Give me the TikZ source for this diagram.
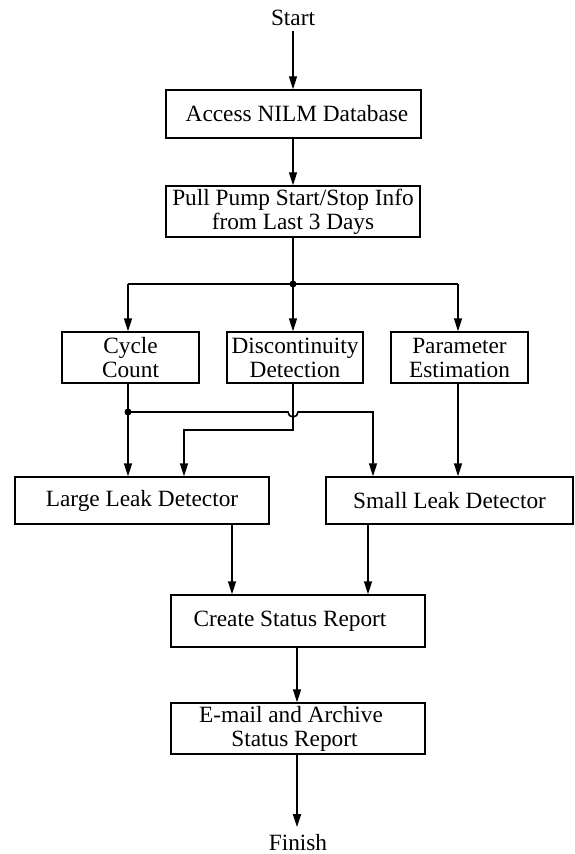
\documentclass[tikz,border=0pt]{standalone}
\usepackage{fontspec}
\setmainfont{Liberation Serif}
\usetikzlibrary{arrows.meta,calc}
\begin{document}
\begin{tikzpicture}[x=1pt,y=-1pt,
  box/.style={draw,line width=1.5pt,inner sep=0pt,align=center,font=\fontsize{23.3}{24}\selectfont},
  lbl/.style={inner sep=0pt,font=\fontsize{23.3}{24}\selectfont},
  ln/.style={line width=1.6pt},
  arr/.style={line width=1.6pt,-{Triangle[length=13pt,width=8pt]}},
  dot/.style={circle,fill,inner sep=0pt,minimum size=7pt}]
\useasboundingbox (0,0) rectangle (575,854);
% nodes
\node[lbl] (start) at (293,18) {Start};
\node[box,minimum width=255pt,minimum height=48pt] (access) at (293.5,114) {\hspace*{7pt}Access NILM Database};
\node[box,minimum width=254pt,minimum height=51pt] (pull) at (293,211.5) {Pull Pump Start/Stop Info\\from Last 3 Days};
\node[box,minimum width=137pt,minimum height=51pt] (cyc) at (130.5,357.5) {Cycle\\Count};
\node[box,minimum width=136pt,minimum height=51pt] (disc) at (295,357.5) {Discontinuity\\Detection};
\node[box,minimum width=137pt,minimum height=51pt] (param) at (459.5,357.5) {Parameter\\Estimation};
\node[box,minimum width=254pt,minimum height=47pt] (large) at (142,500.5) {Large Leak Detector};
\node[box,minimum width=247pt,minimum height=47pt] (small) at (449.5,500.5) {Small Leak Detector};
\node[box,minimum width=254pt,minimum height=52pt] (create) at (298,621) {Create Status Report\kern16pt};
\node[box,minimum width=254pt,minimum height=51pt] (email) at (298,728.5) {E-mail and Archive\kern14pt\\Status Report\kern7pt};
\node[lbl] (finish) at (298,842.5) {Finish};
% helper coordinates
\coordinate (xm) at (293,0);
\coordinate (br) at (293,284);
\coordinate (bl) at (128,284);
\coordinate (brr) at (458,284);
\coordinate (j) at (128,412);
\coordinate (jr) at (373,412);
\coordinate (dk) at (293,430);
\coordinate (dl) at (184,430);
\coordinate (xa) at (232,0);
\coordinate (xb) at (368,0);
\coordinate (xc) at (297,0);
% connectors
\draw[arr,shorten <=5pt] (start.south -| xm) -- (access.north -| xm);
\draw[arr] (access.south -| xm) -- (pull.north -| xm);
\draw[ln] (pull.south -| xm) -- (br);
\draw[ln] (bl) -- (brr);
\draw[arr] (bl) -- (cyc.north -| bl);
\draw[arr] (br) -- (disc.north -| br);
\draw[arr] (brr) -- (param.north -| brr);
\node[dot] (d1) at (br) {};
\draw[arr] (cyc.south -| j) -- (large.north -| j);
\node[dot] (d2) at (j) {};
\draw[arr] (j) -- ($(j -| xm)+(-5,0)$) arc[start angle=180,end angle=0,radius=5] -- (jr) -- (small.north -| jr);
\draw[arr] (disc.south -| xm) -- (dk) -- (dl) -- (large.north -| dl);
\draw[arr] (param.south -| brr) -- (small.north -| brr);
\draw[arr] (large.south -| xa) -- (create.north -| xa);
\draw[arr] (small.south -| xb) -- (create.north -| xb);
\draw[arr] (create.south -| xc) -- (email.north -| xc);
\draw[arr,shorten >=7pt] (email.south -| xc) -- (finish.north -| xc);
\end{tikzpicture}
\end{document}
